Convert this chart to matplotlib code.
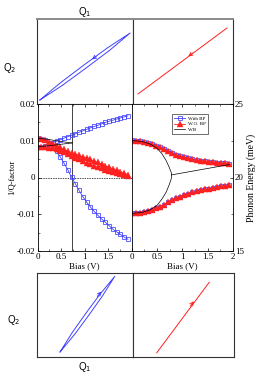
import numpy as np
import matplotlib.pyplot as plt
from matplotlib.ticker import MultipleLocator

serif = 'Liberation Serif'
sans = 'Liberation Sans'

# bias grid (V)
bias = [0.00, 0.08, 0.16, 0.24, 0.32, 0.40, 0.48, 0.56, 0.64, 0.72, 0.80, 0.88, 0.96,
        1.04, 1.12, 1.20, 1.28, 1.36, 1.44, 1.52, 1.60, 1.68, 1.76, 1.84, 1.92]

# 1/Q-factor, with back-propagation (two modes)
bp_lo = [0.0108, 0.0106, 0.0101, 0.0093, 0.0084, 0.0071, 0.0056, 0.0039, 0.0021, 0.0001,
         -0.0017, -0.0035, -0.0052, -0.0067, -0.0080, -0.0092, -0.0103, -0.0113, -0.0122,
         -0.0131, -0.0141, -0.0148, -0.0155, -0.0162, -0.0168]
bp_hi = [0.0083, 0.0084, 0.0087, 0.0091, 0.0095, 0.0099, 0.0103, 0.0107, 0.0111, 0.0115,
         0.0119, 0.0123, 0.0127, 0.0131, 0.0135, 0.0139, 0.0142, 0.0146, 0.0150, 0.0153,
         0.0156, 0.0159, 0.0162, 0.0165, 0.0168]
# 1/Q-factor, without back-propagation
wo_hi = [0.0108, 0.0106, 0.0102, 0.0097, 0.0092, 0.0087, 0.0082, 0.0077, 0.0072, 0.0068,
         0.0064, 0.0060, 0.0057, 0.0053, 0.0049, 0.0045, 0.0041, 0.0037, 0.0032, 0.0028,
         0.0024, 0.0020, 0.0016, 0.0012, 0.0008]
wo_lo = [0.0083, 0.0083, 0.0082, 0.0081, 0.0079, 0.0077, 0.0073, 0.0069, 0.0064, 0.0059,
         0.0054, 0.0049, 0.0044, 0.0040, 0.0036, 0.0032, 0.0028, 0.0025, 0.0021, 0.0018,
         0.0015, 0.0012, 0.0009, 0.0007, 0.0005]

# phonon energy (meV), same for both cases
e_hi = [22.52, 22.51, 22.47, 22.42, 22.35, 22.27, 22.17, 22.06, 21.93, 21.80, 21.67, 21.55,
        21.45, 21.37, 21.30, 21.25, 21.20, 21.15, 21.11, 21.08, 21.05, 21.02, 20.99, 20.96, 20.93]
e_lo = [17.56, 17.57, 17.60, 17.65, 17.71, 17.80, 17.90, 18.02, 18.16, 18.30, 18.45, 18.58,
        18.70, 18.81, 18.90, 18.98, 19.06, 19.13, 19.19, 19.24, 19.29, 19.34, 19.39, 19.44, 19.48]

# WB curves
wb_bias_l = [0.0, 0.2, 0.4, 0.6, 0.74]
wb_im_a = [0.0107, 0.0104, 0.0100, 0.0096, 0.0094]
wb_im_b = [0.0084, 0.0086, 0.0089, 0.0092, 0.0094]
ep_bias = 0.74
wb_bias_r = [0.0, 0.2, 0.35, 0.5, 0.6, 0.68, 0.74, 0.78, 0.79]
wb_re_a = [22.52, 22.45, 22.30, 22.00, 21.60, 21.15, 20.70, 20.35, 20.18]
wb_re_b = [17.56, 17.62, 17.78, 18.10, 18.55, 19.00, 19.50, 19.90, 20.18]
wb_bias_t = [0.79, 1.93]
wb_re_t = [20.18, 20.88]

# phase-space trajectories (Q1, Q2), axes units
top_bp_q1 = [0.03, 0.2396, 0.488, 0.7396, 0.97, 0.7604, 0.512, 0.2604, 0.03]
top_bp_q2 = [0.047, 0.2458, 0.458, 0.6648, 0.835, 0.6352, 0.424, 0.2162, 0.047]
top_wo_q1 = [0.05, 0.94]
top_wo_q2 = [0.118, 0.894]
bot_bp_q1 = [0.24, 0.3695, 0.510, 0.6545, 0.81, 0.6805, 0.540, 0.3955, 0.24]
bot_bp_q2 = [0.06, 0.2954, 0.522, 0.7454, 0.96, 0.7246, 0.498, 0.2746, 0.06]
bot_wo_q1 = [0.235, 0.755]
bot_wo_q2 = [0.05, 0.89]

W, H = 266, 376
fig = plt.figure(figsize=(W / 100, H / 100), dpi=100)


def box(l, r, t, b):
    return fig.add_axes([l / W, 1 - b / H, (r - l) / W, (b - t) / H])


ax_tl = box(37, 133, 19, 104)
ax_tr = box(133, 233, 19, 104)
ax_bl = box(37, 133, 273, 357)
ax_br = box(133, 234, 273, 357)
for ax in (ax_tl, ax_tr, ax_bl, ax_br):
    ax.set_xlim(0, 1)
    ax.set_ylim(0, 1)
    ax.set_xticks([])
    ax.set_yticks([])
    for s in ax.spines.values():
        s.set_color('#333333')
        s.set_linewidth(0.8)
for ax in (ax_tl, ax_tr):
    ax.spines['top'].set_color('#8a8a8a')
    ax.spines['top'].set_linewidth(1.4)

blue = '#4040ff'
red = '#ff2020'
ax_tl.plot(top_bp_q1, top_bp_q2, color=blue, lw=0.7)
ax_tl.annotate('', xy=(0.55, 0.505), xytext=(0.64, 0.58),
               arrowprops=dict(arrowstyle='->', color=blue, lw=0.7, mutation_scale=6))
ax_tr.plot(top_wo_q1, top_wo_q2, color=red, lw=0.7)
ax_tr.annotate('', xy=(0.53, 0.54), xytext=(0.62, 0.618),
               arrowprops=dict(arrowstyle='->', color=red, lw=0.7, mutation_scale=6))
ax_bl.plot(bot_bp_q1, bot_bp_q2, color=blue, lw=0.7)
ax_bl.annotate('', xy=(0.69, 0.805), xytext=(0.61, 0.695),
               arrowprops=dict(arrowstyle='->', color=blue, lw=0.7, mutation_scale=6))
ax_br.plot(bot_wo_q1, bot_wo_q2, color=red, lw=0.7)
ax_br.annotate('', xy=(0.62, 0.69), xytext=(0.55, 0.58),
               arrowprops=dict(arrowstyle='->', color=red, lw=0.7, mutation_scale=6))

fig.text(85 / W, 1 - 12 / H, 'Q$_1$', family=sans, fontsize=7, ha='center', va='center')
fig.text(10 / W, 1 - 68 / H, 'Q$_2$', family=sans, fontsize=7, ha='center', va='center')
fig.text(14 / W, 1 - 320 / H, 'Q$_2$', family=sans, fontsize=7, ha='center', va='center')
fig.text(85 / W, 1 - 367 / H, 'Q$_1$', family=sans, fontsize=7, ha='center', va='center')

# middle panels
ax_ml = box(37.7, 131.7, 104, 251)
ax_mr = box(131.7, 233, 104, 251)

mk_bp = dict(color=blue, marker='s', ms=3.4, mfc='none', mew=0.55, lw=0.6)
mk_wo = dict(color=red, marker='^', ms=3.8, mew=0.3, lw=0.6)

ax_ml.axhline(0, color='black', lw=0.5, ls=(0, (2, 1.5)))
ax_ml.axvline(ep_bias, color='#444444', lw=0.7)
ax_ml.plot(bias, bp_lo, **mk_bp)
ax_ml.plot(bias, bp_hi, **mk_bp)
ax_ml.plot(bias, wo_hi, **mk_wo)
ax_ml.plot(bias, wo_lo, **mk_wo)
ax_ml.plot(wb_bias_l, wb_im_a, color='black', lw=0.5)
ax_ml.plot(wb_bias_l, wb_im_b, color='black', lw=0.5)
ax_ml.set_xlim(0, 2)
ax_ml.set_ylim(-0.02, 0.02)
ax_ml.set_xticks([0, 0.5, 1, 1.5])
ax_ml.set_xticklabels(['0', '0.5', '1', '1.5'])
ax_ml.set_yticks([-0.02, -0.01, 0, 0.01, 0.02])
ax_ml.set_yticklabels(['-0.02', '-0.01', '0', '0.01', '0.02'])
ax_ml.xaxis.set_minor_locator(MultipleLocator(0.25))
ax_ml.yaxis.set_minor_locator(MultipleLocator(0.005))
ax_ml.tick_params(which='both', direction='in', top=True, right=False, labelsize=6.5, pad=1.5)
ax_ml.tick_params(which='major', length=2.5, width=0.5)
ax_ml.tick_params(which='minor', length=1.3, width=0.4)
ax_ml.set_ylabel('1/Q-factor', family=serif, fontsize=6, labelpad=1)

l1, = ax_mr.plot(bias, e_hi, **mk_bp, label='With BP')
ax_mr.plot(bias, e_lo, **mk_bp)
l2, = ax_mr.plot(bias, e_hi, **mk_wo, label='W.O. BP')
ax_mr.plot(bias, e_lo, **mk_wo)
l3, = ax_mr.plot(wb_bias_r, wb_re_a, color='black', lw=0.5, label='WB')
ax_mr.plot(wb_bias_r, wb_re_b, color='black', lw=0.5)
ax_mr.plot(wb_bias_t, wb_re_t, color='black', lw=0.5)
ax_mr.set_xlim(0, 2)
ax_mr.set_ylim(15, 25)
ax_mr.set_xticks([0, 0.5, 1, 1.5, 2])
ax_mr.set_xticklabels(['0', '0.5', '1', '1.5', '2'])
ax_mr.set_yticks([15, 20, 25])
ax_mr.xaxis.set_minor_locator(MultipleLocator(0.25))
ax_mr.yaxis.set_minor_locator(MultipleLocator(2.5))
ax_mr.yaxis.tick_right()
ax_mr.yaxis.set_label_position('right')
ax_mr.tick_params(which='both', direction='in', top=True, left=False, right=True,
                  labelsize=6.5, pad=1.5)
ax_mr.tick_params(which='major', length=2.5, width=0.5)
ax_mr.tick_params(which='minor', length=1.3, width=0.4)
ax_mr.set_ylabel('Phonon Energy (meV)', family=serif, fontsize=7, labelpad=2)

for ax in (ax_ml, ax_mr):
    for s in ax.spines.values():
        s.set_linewidth(0.6)
    for t in ax.get_xticklabels() + ax.get_yticklabels():
        t.set_family(serif)
    ax.set_xlabel('Bias (V)', family=serif, fontsize=6.5, labelpad=0.5)

leg = ax_mr.legend(handles=[l1, l2, l3], loc='upper left', bbox_to_anchor=(0.40, 0.93),
                   prop=dict(family=serif, size=3.6), frameon=True, fancybox=False,
                   handlelength=2.2, borderpad=0.4, labelspacing=0.2, handletextpad=0.6,
                   borderaxespad=0)
leg.get_frame().set_edgecolor('black')
leg.get_frame().set_linewidth(0.5)

fig.savefig('out.png', dpi=100)
